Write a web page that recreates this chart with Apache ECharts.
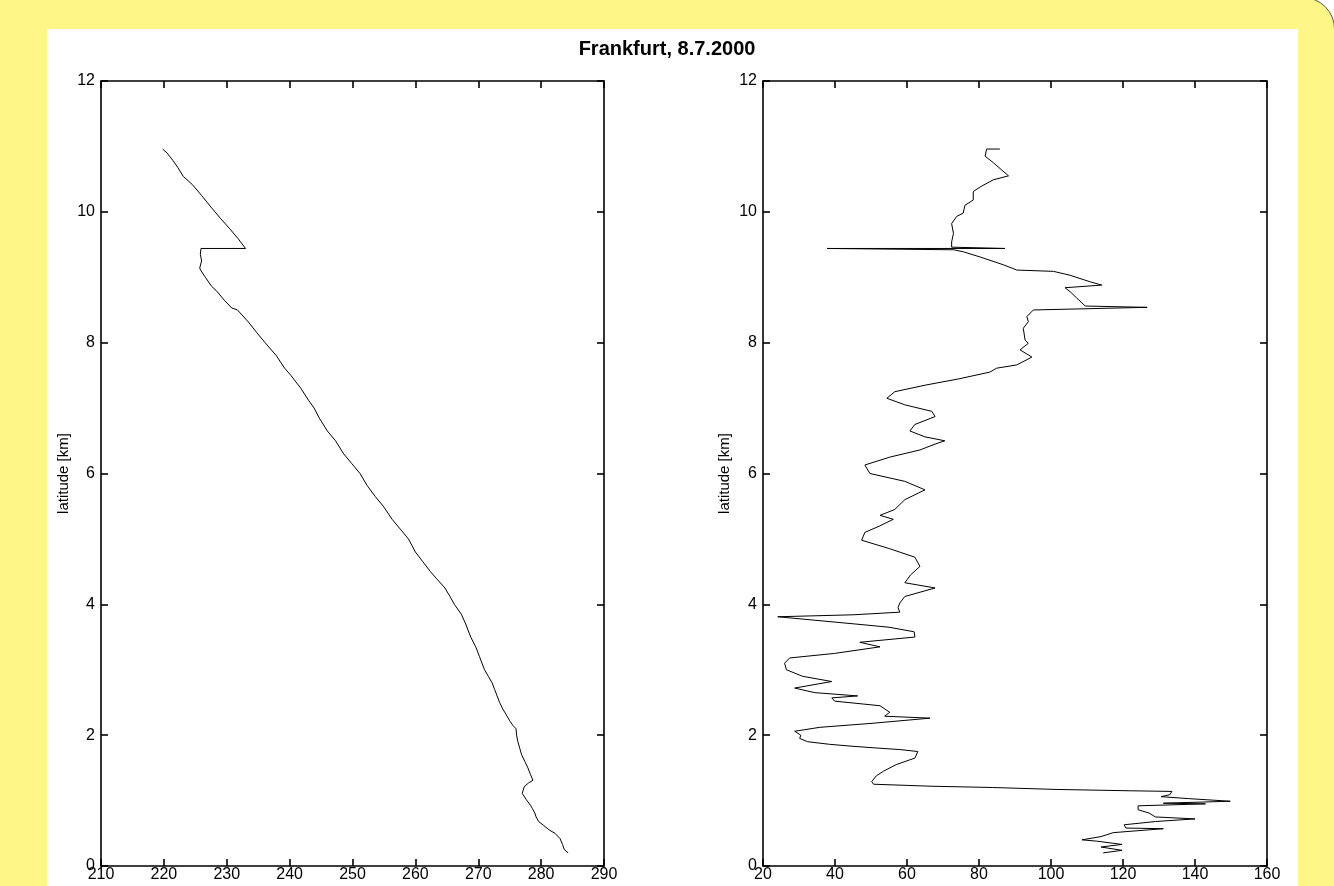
<!DOCTYPE html>
<html>
<head>
<meta charset="utf-8">
<script src="https://cdn.jsdelivr.net/npm/echarts@6/dist/echarts.min.js"></script>
<style>
  html, body { margin:0; padding:0; background:#ffffff; overflow:hidden; }
  #wrap { position:relative; width:1334px; height:886px; overflow:hidden; background:#ffffff; }
  #yellow { position:absolute; left:-10px; top:-3px; width:1345px; height:900px; box-sizing:border-box;
            background:#FFF688; border:1px solid #555; border-top-right-radius:32px; }
  #panel { position:absolute; left:47px; top:29px; width:1251px; height:900px; background:#ffffff; }
  #chart { position:absolute; left:0; top:0; width:1334px; height:886px; }
</style>
</head>
<body>
<div id="wrap">
  <div id="yellow"></div>
  <div id="panel"></div>
  <div id="chart"></div>
</div>
<script>
// ---- data ----
const titleText = 'Frankfurt, 8.7.2000';
const yName = 'latitude [km]';

// left panel: temperature-like value vs altitude (km)
const leftX = [284.3,283.7,283.4,283.0,282.2,281.3,280.4,279.6,279.2,279.0,278.6,278.3,277.6,277.0,277.3,278.0,278.7,278.3,277.9,277.4,276.9,276.6,276.3,276.1,276.0,275.5,275.0,274.4,273.9,273.4,273.0,272.6,272.2,271.6,271.0,270.2,269.6,268.8,268.0,267.3,266.2,265.5,264.7,263.3,262.4,261.2,260.0,258.9,257.6,256.3,254.9,253.6,252.3,251.2,249.9,248.6,247.3,246.0,244.7,243.9,243.0,241.8,240.2,239.2,237.9,236.1,234.8,233.4,231.7,230.8,229.6,228.3,227.6,226.6,225.9,225.7,226.0,225.8,225.9,233.0,231.8,230.4,229.0,227.6,226.0,224.5,223.1,222.2,221.4,220.5,219.8];
const leftAlt = [0.20,0.25,0.33,0.42,0.50,0.55,0.62,0.68,0.75,0.81,0.88,0.93,1.02,1.11,1.21,1.27,1.31,1.40,1.50,1.60,1.70,1.80,1.90,2.00,2.10,2.15,2.22,2.32,2.40,2.50,2.60,2.70,2.80,2.90,3.00,3.20,3.35,3.50,3.70,3.85,4.00,4.12,4.25,4.40,4.50,4.65,4.80,5.00,5.15,5.30,5.50,5.65,5.82,6.00,6.15,6.30,6.50,6.65,6.85,7.00,7.12,7.30,7.50,7.61,7.80,8.00,8.15,8.32,8.50,8.53,8.65,8.80,8.86,9.00,9.10,9.14,9.25,9.35,9.44,9.44,9.59,9.75,9.90,10.06,10.25,10.42,10.54,10.68,10.79,10.90,10.96];

// right panel: value vs altitude (km)
const rightX = [114.5,119.7,113.9,119.7,112.7,108.6,113.9,117.3,131.2,120.8,120.3,129.0,140.0,129.0,127.2,124.2,124.2,142.9,131.2,149.8,138.2,130.6,133.0,133.6,122.0,101.7,83.8,66.4,50.7,50.2,51.5,53.5,57.0,62.2,63.0,58.0,52.5,45.0,38.5,32.4,30.2,30.5,28.8,35.8,50.0,66.4,53.8,55.2,52.5,39.9,39.1,46.3,34.4,28.8,39.1,31.0,26.5,26.0,27.4,39.9,52.5,46.9,62.2,62.0,55.0,45.5,24.1,45.0,58.0,57.5,58.0,59.4,67.8,59.4,61.0,63.6,62.2,55.2,47.4,48.3,52.5,56.2,52.5,56.6,59.4,65.0,59.4,49.7,48.3,55.2,63.6,67.8,70.5,65.0,60.8,62.2,67.8,66.9,59.4,54.4,56.6,65.0,74.7,83.0,84.9,90.5,94.7,91.4,93.7,92.8,92.3,93.7,93.3,95.1,126.7,109.5,107.2,105.3,103.9,114.1,110.9,105.3,100.7,90.5,86.8,80.3,75.6,73.0,37.8,87.2,72.4,72.4,72.9,72.4,73.8,75.6,76.1,78.4,78.4,80.3,84.0,88.2,84.0,81.7,82.1,85.8];
const rightAlt = [0.20,0.24,0.29,0.33,0.38,0.40,0.45,0.51,0.57,0.58,0.63,0.68,0.72,0.75,0.81,0.86,0.92,0.95,0.96,0.99,1.03,1.06,1.09,1.14,1.15,1.17,1.20,1.22,1.25,1.29,1.38,1.45,1.55,1.65,1.75,1.78,1.80,1.83,1.86,1.90,1.95,2.00,2.06,2.12,2.18,2.26,2.29,2.35,2.45,2.52,2.57,2.60,2.65,2.72,2.82,2.90,3.00,3.10,3.18,3.25,3.35,3.42,3.50,3.58,3.65,3.70,3.81,3.84,3.88,3.95,4.02,4.12,4.25,4.33,4.45,4.58,4.72,4.85,4.98,5.10,5.20,5.30,5.36,5.45,5.60,5.75,5.88,6.00,6.13,6.25,6.36,6.45,6.50,6.56,6.65,6.75,6.87,6.95,7.05,7.15,7.25,7.35,7.45,7.55,7.61,7.66,7.78,7.89,7.99,8.04,8.22,8.32,8.40,8.50,8.54,8.56,8.68,8.78,8.84,8.88,8.93,9.03,9.09,9.11,9.19,9.31,9.39,9.42,9.44,9.44,9.46,9.54,9.67,9.82,9.93,9.98,10.10,10.18,10.31,10.38,10.49,10.55,10.75,10.85,10.96,10.96];

const leftRange = { min: 210, max: 290, interval: 10 };
const rightRange = { min: 20, max: 160, interval: 20 };
const altRange = { min: 0, max: 12, interval: 2 };

// ---- chart ----
const FONT = 'Liberation Sans, Arial, sans-serif';
const lineSt = { color: '#000', width: 1.6 };
const tickSt = { inside: true, length: 7, lineStyle: { color: '#000', width: 1.6 } };
const lblSt = { color: '#000', fontSize: 16, fontFamily: FONT };

function xAxes(grid, r) {
  return [
    { type: 'value', gridIndex: grid, position: 'bottom', min: r.min, max: r.max, interval: r.interval,
      axisLine: { show: true, onZero: false, lineStyle: lineSt }, axisTick: tickSt,
      axisLabel: Object.assign({ margin: 1 }, lblSt), splitLine: { show: false } },
    { type: 'value', gridIndex: grid, position: 'top', min: r.min, max: r.max, interval: r.interval,
      axisLine: { show: true, onZero: false, lineStyle: lineSt }, axisTick: tickSt,
      axisLabel: { show: false }, splitLine: { show: false } }
  ];
}
function yAxes(grid, gap) {
  return [
    { type: 'value', gridIndex: grid, position: 'left', min: altRange.min, max: altRange.max, interval: altRange.interval,
      name: yName, nameLocation: 'middle', nameGap: gap,
      nameTextStyle: { color: '#000', fontSize: 15, fontFamily: FONT },
      axisLine: { show: true, onZero: false, lineStyle: lineSt }, axisTick: tickSt,
      axisLabel: Object.assign({ margin: 6 }, lblSt), splitLine: { show: false } },
    { type: 'value', gridIndex: grid, position: 'right', min: altRange.min, max: altRange.max, interval: altRange.interval,
      axisLine: { show: true, onZero: false, lineStyle: lineSt }, axisTick: tickSt,
      axisLabel: { show: false }, splitLine: { show: false } }
  ];
}

const leftData = leftX.map((v, i) => [v, leftAlt[i]]);
const rightData = rightX.map((v, i) => [v, rightAlt[i]]);

const chart = echarts.init(document.getElementById('chart'), null, { renderer: 'canvas' });
chart.setOption({
  backgroundColor: 'transparent',
  animation: false,
  title: {
    text: titleText, left: 'center', top: 34,
    textStyle: { color: '#000', fontSize: 20, fontWeight: 'bold', fontFamily: FONT }
  },
  grid: [
    { left: 101, top: 81, width: 503, height: 785, containLabel: false },
    { left: 763, top: 81, width: 504, height: 785, containLabel: false }
  ],
  xAxis: [].concat(xAxes(0, leftRange), xAxes(1, rightRange)),
  yAxis: [].concat(yAxes(0, 30), yAxes(1, 31)),
  series: [
    { type: 'line', xAxisIndex: 0, yAxisIndex: 0, data: leftData, showSymbol: false, symbol: 'none',
      lineStyle: { color: '#000', width: 1 }, silent: true },
    { type: 'line', xAxisIndex: 2, yAxisIndex: 2, data: rightData, showSymbol: false, symbol: 'none',
      lineStyle: { color: '#000', width: 1 }, silent: true }
  ]
});
</script>
</body>
</html>
